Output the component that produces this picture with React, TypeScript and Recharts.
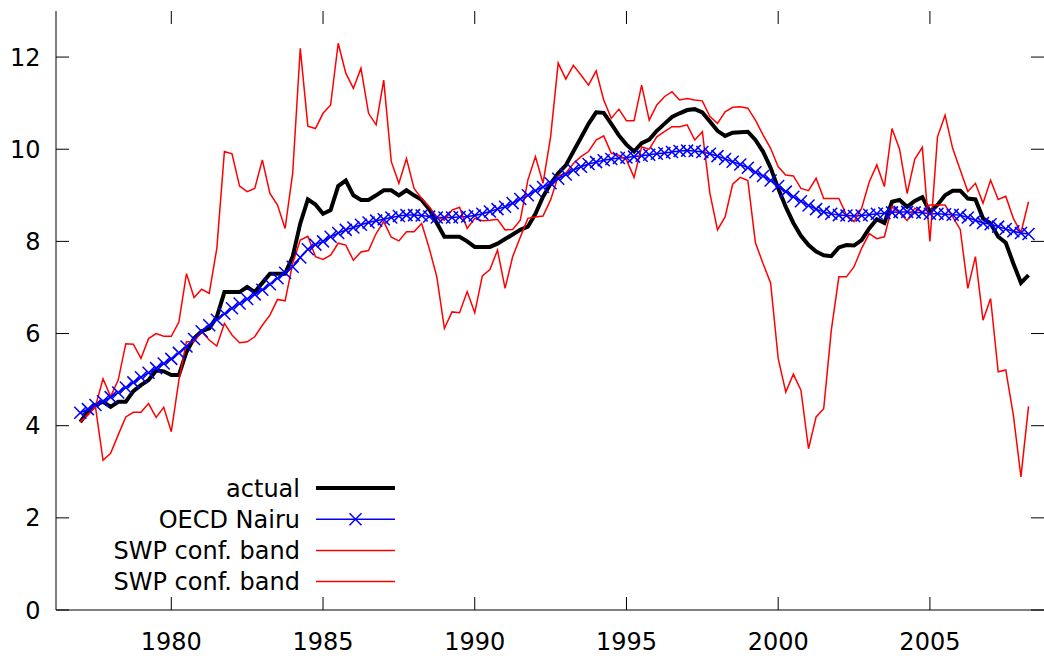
import { Legend, Line, LineChart, ReferenceLine, XAxis, YAxis } from "recharts";

const START_YEAR = 1977;

// quarterly values, 1977Q1 .. 2008Q2
const actual = [
	4.08, 4.3, 4.45, 4.52, 4.41, 4.52, 4.52, 4.75, 4.88, 4.99, 5.2, 5.18,
	5.1, 5.1, 5.6, 5.9, 6.05, 6.11, 6.36, 6.9, 6.9, 6.9, 7.01, 6.9,
	7.1, 7.3, 7.3, 7.3, 7.67, 8.39, 8.91, 8.8, 8.6, 8.68, 9.2, 9.32,
	9.0, 8.9, 8.9, 9.0, 9.11, 9.11, 9.0, 9.11, 9.0, 8.9, 8.7, 8.4,
	8.1, 8.1, 8.1, 8.0, 7.88, 7.88, 7.88, 7.95, 8.05, 8.15, 8.25, 8.32,
	8.6, 8.97, 9.25, 9.48, 9.65, 9.95, 10.25, 10.55, 10.8, 10.79, 10.55, 10.3,
	10.1, 9.95, 10.13, 10.21, 10.4, 10.55, 10.7, 10.78, 10.85, 10.87, 10.8, 10.6,
	10.4, 10.29, 10.36, 10.37, 10.38, 10.2, 9.95, 9.6, 9.15, 8.75, 8.4, 8.12,
	7.92, 7.78, 7.7, 7.68, 7.87, 7.92, 7.91, 8.03, 8.28, 8.48, 8.4, 8.86,
	8.9, 8.75, 8.88, 8.96, 8.64, 8.79, 9.0, 9.1, 9.1, 8.93, 8.91, 8.5,
	8.39, 8.1, 7.97, 7.52, 7.1, 7.27,
];

const oecdNairu = [
	4.28, 4.36, 4.45, 4.53, 4.62, 4.72, 4.83, 4.94, 5.05, 5.15, 5.25, 5.35,
	5.45, 5.58, 5.72, 5.88, 6.05, 6.18, 6.3, 6.43, 6.55, 6.65, 6.75, 6.85,
	6.95, 7.07, 7.2, 7.32, 7.45, 7.65, 7.83, 7.93, 8.0, 8.1, 8.18, 8.25,
	8.3, 8.36, 8.41, 8.45, 8.48, 8.52, 8.55, 8.57, 8.57, 8.56, 8.54, 8.52,
	8.52, 8.52, 8.53, 8.54, 8.56, 8.6, 8.65, 8.7, 8.75, 8.83, 8.92, 9.0,
	9.1, 9.18, 9.26, 9.36, 9.45, 9.55, 9.62, 9.68, 9.72, 9.76, 9.79, 9.81,
	9.82, 9.84, 9.86, 9.88, 9.9, 9.92, 9.94, 9.96, 9.97, 9.96, 9.94, 9.9,
	9.85, 9.79, 9.73, 9.67, 9.6, 9.5, 9.42, 9.32, 9.2, 9.08, 8.97, 8.87,
	8.78, 8.7, 8.64, 8.6, 8.57, 8.56, 8.55, 8.56, 8.58, 8.6, 8.61, 8.63,
	8.64, 8.64, 8.63, 8.62, 8.6, 8.6, 8.59, 8.58, 8.57, 8.52, 8.46, 8.4,
	8.37, 8.32, 8.27, 8.22, 8.18, 8.16,
];

const swpUpper = [
	4.08, 4.25, 4.42, 5.02, 4.63, 4.99, 5.78, 5.77, 5.46, 5.89, 6.0, 5.94,
	5.94, 6.25, 7.3, 6.78, 6.96, 6.87, 7.85, 9.95, 9.9, 9.2, 9.08, 9.15,
	9.77, 9.04, 8.79, 8.28, 9.48, 12.19, 10.5, 10.45, 10.78, 10.96, 12.3, 11.65,
	11.32, 11.76, 10.78, 10.53, 11.5, 9.73, 9.26, 9.8, 9.15, 8.93, 8.75, 8.53,
	8.46, 8.68, 8.74, 8.28, 8.5, 8.45, 8.46, 8.48, 8.25, 8.26, 8.46, 9.33,
	9.84, 9.26, 10.27, 11.87, 11.52, 11.82, 11.61, 11.39, 11.7, 11.07, 10.67, 10.87,
	10.62, 10.62, 11.39, 10.63, 10.96, 11.14, 11.25, 11.07, 11.1, 11.07, 11.05, 10.71,
	10.56, 10.81, 10.91, 10.92, 10.89, 10.63, 10.31, 10.02, 9.62, 9.44, 9.42, 9.15,
	9.1, 9.37, 8.93, 8.93, 8.93, 8.57, 8.43, 8.72, 9.29, 9.66, 9.19, 10.45,
	10.0, 9.04, 9.78, 10.04, 8.0, 10.27, 10.74, 10.02, 9.55, 9.08, 9.26, 8.83,
	9.33, 8.91, 8.98, 8.5, 8.19, 8.86,
];

const swpLower = [
	4.08, 4.23, 4.41, 3.25, 3.4, 3.8, 4.19, 4.29, 4.29, 4.48, 4.18, 4.4,
	3.87, 4.99, 5.82, 5.82, 6.04, 5.86, 5.73, 6.22, 5.97, 5.8, 5.82, 5.93,
	6.18, 6.4, 6.74, 6.71, 7.52, 8.03, 8.11, 7.67, 7.61, 7.7, 7.96, 7.92,
	7.59, 7.77, 7.8, 8.17, 8.43, 8.09, 8.01, 8.21, 8.21, 8.39, 7.85, 7.23,
	6.11, 6.47, 6.45, 6.91, 6.45, 7.25, 7.39, 7.81, 6.98, 7.67, 8.09, 8.5,
	8.53, 8.55, 8.9, 9.42, 9.48, 9.69, 9.84, 9.95, 10.2, 10.29, 9.91, 9.87,
	9.77, 9.39, 10.05, 10.0, 10.27, 10.38, 10.49, 10.49, 10.53, 10.2, 10.38, 9.04,
	8.25, 8.53, 9.24, 9.39, 9.32, 7.97, 7.52, 7.1, 5.46, 4.73, 5.12, 4.77,
	3.5, 4.19, 4.37, 6.07, 7.23, 7.23, 7.45, 7.85, 8.17, 8.06, 8.1, 8.75,
	8.62, 8.45, 8.72, 8.64, 8.79, 8.79, 8.79, 8.53, 8.26, 6.98, 7.67, 6.29,
	6.76, 5.17, 5.21, 4.23, 2.89, 4.42,
];

const xTicks = [1980, 1985, 1990, 1995, 2000, 2005];
const yTicks = [0, 2, 4, 6, 8, 10, 12];

const data = actual.map((v, i) => ({
	t: START_YEAR + i / 4,
	actual: v,
	oecd: oecdNairu[i],
	upper: swpUpper[i],
	lower: swpLower[i],
}));

const FONT = "DejaVu Sans";
const X_DOMAIN: [number, number] = [1976.2, 2008.76];
const Y_DOMAIN: [number, number] = [0, 13];
// plot box is 988 x 599 px; inward tick marks are 13 px long
const TICK_X = (13 * (X_DOMAIN[1] - X_DOMAIN[0])) / 988;
const TICK_Y = (13 * (Y_DOMAIN[1] - Y_DOMAIN[0])) / 599;

const seriesOrder = ["actual", "oecd", "upper", "lower"];
const legendLook: Record<string, { width: number; marker?: boolean }> = {
	actual: { width: 4 },
	oecd: { width: 1.5, marker: true },
	upper: { width: 1.5 },
	lower: { width: 1.5 },
};

function Cross(props: any) {
	const { cx, cy, index } = props;
	if (cx == null || cy == null) return <g key={`c-${index}`} />;
	const s = 6;
	return (
		<path
			key={`c-${index}`}
			d={`M${cx - s},${cy - s}L${cx + s},${cy + s}M${cx - s},${cy + s}L${cx + s},${cy - s}`}
			stroke="#0000ff"
			strokeWidth={1.5}
			fill="none"
		/>
	);
}

function BottomLabel({ x, y, payload }: any) {
	return (
		<text x={x} y={y + 40} textAnchor="middle" fontFamily={FONT} fontSize={24} fill="#000">
			{payload.value}
		</text>
	);
}

function LeftLabel({ x, y, payload }: any) {
	return (
		<text x={x - 15.5} y={y + 8.5} textAnchor="end" fontFamily={FONT} fontSize={24} fill="#000">
			{payload.value}
		</text>
	);
}

function LegendBox({ payload }: any) {
	const rows = [...(payload || [])].sort(
		(a: any, b: any) => seriesOrder.indexOf(a.dataKey) - seriesOrder.indexOf(b.dataKey),
	);
	return (
		<svg width={400} height={130} style={{ display: "block" }}>
			{rows.map((entry: any, i: number) => {
				const y = 18 + i * 31.2;
				const look = legendLook[entry.dataKey] || { width: 1.5 };
				return (
					<g key={i}>
						<text
							x={300}
							y={y + 8.5}
							textAnchor="end"
							fontFamily={FONT}
							fontSize={24}
							fill="#000"
						>
							{entry.value}
						</text>
						<line x1={316} x2={395} y1={y} y2={y} stroke={entry.color} strokeWidth={look.width} />
						{look.marker && (
							<path
								d={`M${349.5},${y - 6}L${361.5},${y + 6}M${349.5},${y + 6}L${361.5},${y - 6}`}
								stroke={entry.color}
								strokeWidth={1.5}
							/>
						)}
					</g>
				);
			})}
		</svg>
	);
}

export default function App() {
	const tickMarks = [
		...xTicks.flatMap((t) => [
			[{ x: t, y: Y_DOMAIN[0] }, { x: t, y: Y_DOMAIN[0] + TICK_Y }],
			[{ x: t, y: Y_DOMAIN[1] }, { x: t, y: Y_DOMAIN[1] - TICK_Y }],
		]),
		...yTicks.flatMap((v) => [
			[{ x: X_DOMAIN[0], y: v }, { x: X_DOMAIN[0] + TICK_X, y: v }],
			[{ x: X_DOMAIN[1], y: v }, { x: X_DOMAIN[1] - TICK_X, y: v }],
		]),
	];

	return (
		<div style={{ position: "absolute", left: 0, top: 0, background: "#fff" }}>
			<LineChart
				width={1044}
				height={656}
				data={data}
				margin={{ top: 11, right: 0, left: 0, bottom: 0 }}
			>
				<XAxis
					dataKey="t"
					type="number"
					domain={X_DOMAIN}
					allowDataOverflow
					ticks={xTicks}
					interval={0}
					height={46}
					tickSize={0}
					tickMargin={0}
					tickLine={false}
					stroke="#000"
					tick={BottomLabel}
				/>
				<XAxis
					xAxisId="top"
					orientation="top"
					dataKey="t"
					type="number"
					domain={X_DOMAIN}
					allowDataOverflow
					height={0}
					tickLine={false}
					tick={false}
					stroke="#000"
				/>
				<YAxis
					type="number"
					domain={Y_DOMAIN}
					allowDataOverflow
					ticks={yTicks}
					interval={0}
					width={56}
					tickSize={0}
					tickMargin={0}
					tickLine={false}
					stroke="#000"
					tick={LeftLabel}
				/>
				{tickMarks.map((seg, i) => (
					<ReferenceLine
						key={`tick-${i}`}
						segment={seg}
						stroke="#000"
						strokeWidth={1}
						ifOverflow="visible"
					/>
				))}
				<Legend
					layout="vertical"
					align="center"
					verticalAlign="middle"
					content={<LegendBox />}
					wrapperStyle={{ left: 0, top: 470, width: 400, height: 130 }}
				/>
				<Line
					dataKey="actual"
					name="actual"
					type="linear"
					stroke="#000000"
					strokeWidth={4}
					dot={false}
					isAnimationActive={false}
				/>
				<Line
					dataKey="oecd"
					name="OECD Nairu"
					type="linear"
					stroke="#0000ff"
					strokeWidth={1.5}
					dot={Cross}
					isAnimationActive={false}
				/>
				<Line
					dataKey="upper"
					name="SWP conf. band"
					type="linear"
					stroke="#ff0000"
					strokeWidth={1.5}
					dot={false}
					isAnimationActive={false}
				/>
				<Line
					dataKey="lower"
					name="SWP conf. band"
					type="linear"
					stroke="#ff0000"
					strokeWidth={1.5}
					dot={false}
					isAnimationActive={false}
				/>
			</LineChart>
		</div>
	);
}
